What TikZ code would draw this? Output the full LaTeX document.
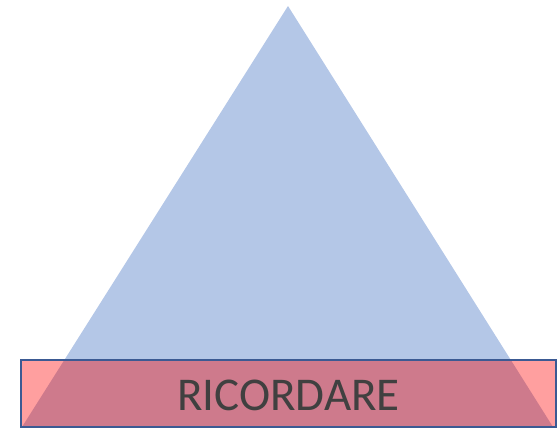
\documentclass[tikz,border=0pt]{standalone}
\usepackage{fontspec}
\setmainfont{Carlito}
\usetikzlibrary{positioning}
\definecolor{pyrblue}{HTML}{B4C7E7}
\definecolor{basepink}{HTML}{FF9F9F}
\definecolor{overlap}{HTML}{CE7A8C}
\definecolor{edgeblue}{HTML}{3B5A93}
\definecolor{txtgray}{HTML}{404040}
\tikzset{
  basebox/.style={draw=edgeblue, line width=2.4pt, minimum width=535pt,
    minimum height=67pt, inner sep=0pt, text=txtgray, font=\fontsize{47}{47}\selectfont},
}
\begin{document}
\begin{tikzpicture}[x=1pt,y=-1pt]
    \useasboundingbox (0,0) rectangle (560,429);
    % Pyramid
    \fill[pyrblue] (288,6) -- (553,427) -- (22,427) -- cycle;
    % Base level, fill and overlap with the pyramid
    \fill[basepink] (21,360) rectangle (556,427);
    \begin{scope}
      \clip (21,360) rectangle (556,427);
      \fill[overlap] (288,6) -- (553,427) -- (22,427) -- cycle;
    \end{scope}
    \node[basebox] (ricordare) at (288.5,393.5) {};
    \node[text=txtgray, font=\fontsize{47}{47}\selectfont, inner sep=0pt]
      at ([yshift=-2pt]ricordare.center) {RICORDARE};
\end{tikzpicture}
\end{document}
